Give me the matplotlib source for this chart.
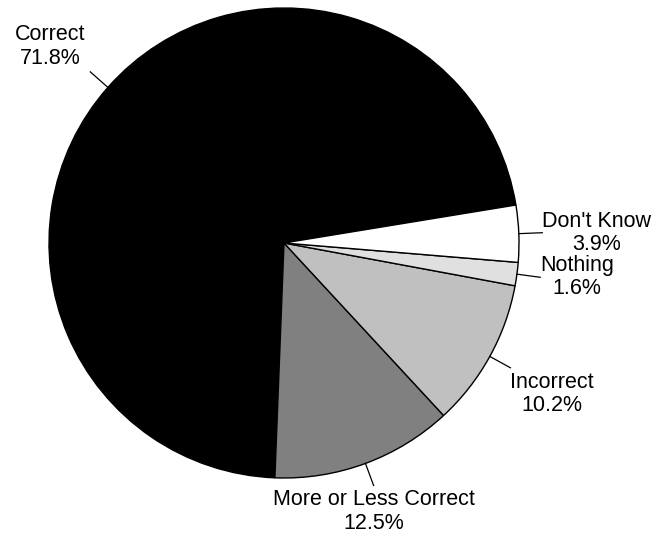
import numpy as np
import matplotlib
matplotlib.use("Agg")
import matplotlib.pyplot as plt

# Survey answer shares (percent), drawn counter-clockwise from the start angle
categories = ["Correct", "More or Less Correct", "Incorrect", "Nothing", "Don't Know"]
shares = [71.8, 12.5, 10.2, 1.6, 3.9]
colors = ["#000000", "#808080", "#c0c0c0", "#e0e0e0", "#ffffff"]

W, H = 654, 534
fig = plt.figure(figsize=(W / 100, H / 100), dpi=100)
ax = fig.add_axes([0, 0, 1, 1])

cx, cy, R = 284, H - 243, 235
start = 9.3

wedges, _ = ax.pie(shares, colors=colors, startangle=start, counterclock=True,
                   center=(cx, cy), radius=R, frame=True,
                   wedgeprops=dict(edgecolor="black", linewidth=1.0))

ax.set_xlim(0, W)
ax.set_ylim(0, H)
ax.set_aspect("equal")
ax.axis("off")

font = dict(family=["Liberation Sans", "DejaVu Sans"], size=15.5)

for w, name, val in zip(wedges, categories, shares):
    mid = np.deg2rad((w.theta1 + w.theta2) / 2)
    c, s = np.cos(mid), np.sin(mid)
    p0 = (cx + R * c, cy + R * s)
    p1 = (cx + 1.1 * R * c, cy + 1.1 * R * s)
    ax.plot([p0[0], p1[0]], [p0[1], p1[1]], color="black", lw=0.9)
    ha = "left" if c > 0.5 else ("right" if c < -0.5 else "center")
    va = "bottom" if s > 0.3 else ("top" if s < -0.3 else "center")
    dx = 0 if ha == "left" else (-5 if ha == "right" else 0)
    dy = 3 if va == "bottom" else (-4 if va == "top" else 0)
    ax.text(p1[0] + dx, p1[1] + dy, f"{name}\n{val:.1f}%", ha=ha, va=va,
            multialignment="center", linespacing=1.15, **font)

fig.savefig("out.png", dpi=100)
